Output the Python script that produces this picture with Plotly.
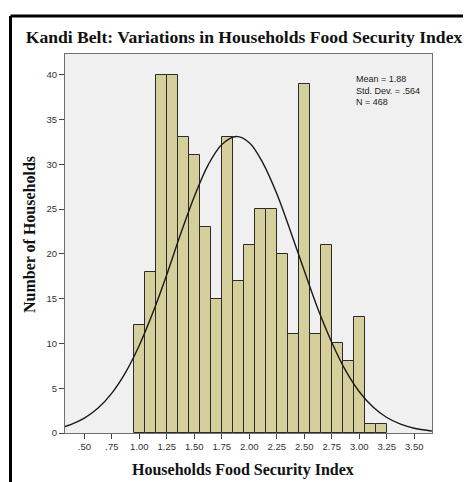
import plotly.graph_objects as go

# Histogram bins (centres, width 0.1) and counts
bin_centers = [1.00, 1.10, 1.20, 1.30, 1.40, 1.50, 1.60, 1.70, 1.80, 1.90, 2.00, 2.10,
               2.20, 2.30, 2.40, 2.50, 2.60, 2.70, 2.80, 2.90, 3.00, 3.10, 3.20]
counts = [12, 18, 40, 40, 33, 31, 23, 15, 33, 17, 21, 25,
          25, 20, 11, 39, 11, 21, 10, 8, 13, 1, 1]

# Fitted normal curve
curve_x = [0.32, 0.375, 0.50, 0.625, 0.75, 0.875, 1.00, 1.125, 1.25, 1.375, 1.50, 1.625,
           1.75, 1.88, 2.00, 2.125, 2.25, 2.375, 2.50, 2.625, 2.75, 2.875, 3.00, 3.125,
           3.25, 3.375, 3.50, 3.625, 3.66]
curve_y = [0.72, 0.94, 1.66, 2.78, 4.45, 6.77, 9.80, 13.5, 17.7, 22.2, 26.4, 29.9,
           32.2, 33.1, 32.4, 30.1, 26.7, 22.5, 18.1, 13.8, 10.1, 6.98, 4.61, 2.90,
           1.73, 0.99, 0.535, 0.28, 0.23]

x_tickvals = [0.50, 0.75, 1.00, 1.25, 1.50, 1.75, 2.00, 2.25, 2.50, 2.75, 3.00, 3.25, 3.50]
x_ticktext = [".50", ".75", "1.00", "1.25", "1.50", "1.75", "2.00", "2.25", "2.50",
              "2.75", "3.00", "3.25", "3.50"]
y_tickvals = [0, 5, 10, 15, 20, 25, 30, 35, 40]

stats_text = "Mean = 1.88<br>Std. Dev. = .564<br>N = 468"

fig = go.Figure()
fig.add_trace(go.Bar(
    x=bin_centers, y=counts, width=0.1,
    marker=dict(color="#d5cf9c", line=dict(color="#2b2b2b", width=1)),
    showlegend=False, hoverinfo="x+y",
))
fig.add_trace(go.Scatter(
    x=curve_x, y=curve_y, mode="lines", line=dict(color="#1a1a1a", width=1.4, shape="spline"),
    showlegend=False, hoverinfo="skip",
))

# page has an 8px body margin, so the figure is offset by 8px
OFF = 8
W, H = 471 - OFF, 482 - OFF
# plot area in page pixels
PL, PR, PT, PB = 65, 432, 54, 433
ml, mr, mt, mb = PL - OFF, 471 - PR, PT - OFF, 482 - PB
pw, ph = PR - PL, PB - PT


def px(xp):
    return (xp - PL) / pw


def py(yp):
    return (PB - yp) / ph


fig.update_layout(
    width=W, height=H,
    margin=dict(l=ml, r=mr, t=mt, b=mb, pad=0),
    paper_bgcolor="white",
    plot_bgcolor="#f0f0f0",
    bargap=0,
    font=dict(family="Arial, Liberation Sans, sans-serif", size=9, color="#333333"),
    title=dict(
        text="<b>Kandi Belt: Variations in Households Food Security Index</b>",
        font=dict(family="Liberation Serif, Times New Roman, serif", size=17.6, color="#111111"),
        x=(244 - OFF) / W, xanchor="center", xref="container",
        y=1 - (37 - OFF) / H, yanchor="middle", yref="container",
    ),
    xaxis=dict(
        range=[0.324, 3.661], tickvals=x_tickvals, ticktext=x_ticktext,
        ticks="outside", ticklen=5, tickcolor="#444444", tickwidth=1,
        showgrid=False, zeroline=False,
        showline=True, linecolor="#6e6e6e", linewidth=1, mirror=True,
        tickfont=dict(size=9.5, color="#333333"),
    ),
    yaxis=dict(
        range=[0, 42.3], tickvals=y_tickvals,
        ticks="outside", ticklen=5, tickcolor="#444444", tickwidth=1,
        showgrid=False, zeroline=False,
        showline=True, linecolor="#6e6e6e", linewidth=1, mirror=True,
        tickfont=dict(size=9.5, color="#333333"),
    ),
    annotations=[
        dict(text=stats_text, xref="paper", yref="paper", x=px(354), y=py(72),
             xanchor="left", yanchor="top", align="left", showarrow=False,
             font=dict(family="Arial, Liberation Sans, sans-serif", size=9, color="#222222")),
        dict(text="<b>Number of Households</b>", xref="paper", yref="paper",
             x=px(30), y=py(235), xanchor="center", yanchor="middle", textangle=-90,
             showarrow=False,
             font=dict(family="Liberation Serif, Times New Roman, serif", size=16, color="#111111")),
        dict(text="<b>Households Food Security Index</b>", xref="paper", yref="paper",
             x=px(242.5), y=py(470), xanchor="center", yanchor="middle", showarrow=False,
             font=dict(family="Liberation Serif, Times New Roman, serif", size=16, color="#111111")),
    ],
    shapes=[
        # black frame (top and left edges visible in the picture)
        dict(type="line", xref="paper", yref="paper",
             x0=px(10.5), x1=px(480), y0=py(16), y1=py(16),
             line=dict(color="black", width=3)),
        dict(type="line", xref="paper", yref="paper",
             x0=px(10.5), x1=px(10.5), y0=py(16), y1=py(490),
             line=dict(color="black", width=3)),
    ],
)

fig.write_html("out.html")
